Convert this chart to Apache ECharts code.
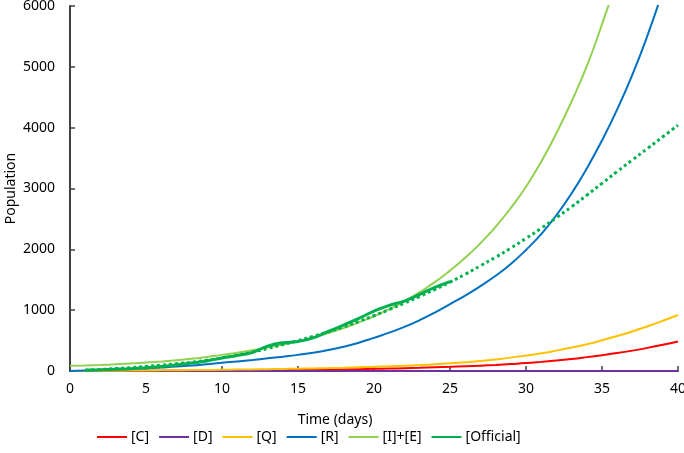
<!DOCTYPE html>
<html>
<head>
<meta charset="utf-8">
<script src="https://cdn.jsdelivr.net/npm/echarts@6/dist/echarts.min.js"></script>
<style>html,body{margin:0;padding:0;background:#fff}#c{width:684px;height:453px}</style>
</head>
<body>
<div id="c"></div>
<script>
// Days 0..40
var days = [0,1,2,3,4,5,6,7,8,9,10,11,12,13,14,15,16,17,18,19,20,21,22,23,24,25,26,27,28,29,30,31,32,33,34,35,36,37,38,39,40];
var seriesC = [0,1,2,2,3,4,5,5,6,7,8,10,11,13,15,18,20,23,26,30,35,40,46,52,60,68,78,88,100,115,130,150,172,198,228,260,295,335,380,430,485];
var seriesD = [0,0,0,0,0,0,0,0,0,0,0,0,0,0,0,0,0,0,0,0,0,0,0,0,0,0,0,0,0,0,0,0,0,0,0,0,0,0,0,0,0];
var seriesQ = [0,2,4,5,7,9,11,13,15,17,20,23,26,30,34,38,43,48,54,61,68,77,87,98,112,128,145,165,190,220,255,290,335,385,440,505,575,650,735,825,920];
var seriesR = [0,8,16,24,34,45,58,72,90,112,135,158,182,208,235,265,300,345,400,465,545,630,725,835,960,1100,1240,1395,1565,1760,1990,2250,2560,2920,3330,3790,4300,4870,5520,6250,7050];
var seriesIE = [85,92,100,110,122,138,155,175,200,230,265,300,340,385,435,490,555,625,705,800,900,1015,1145,1295,1460,1650,1860,2100,2370,2680,3030,3440,3910,4430,5010,5700,6450,7300,8250,9300,10500];
var officialDays = [1,2,3,4,5,6,7,8,9,10,11,12,13,14,15,16,17,18,19,20,21,22,23,24,25];
var official = [15,20,28,38,55,75,100,130,165,215,255,305,410,465,485,545,650,755,865,985,1080,1150,1260,1375,1470];
var trendDays = [1,2,3,4,5,6,7,8,9,10,11,12,13,14,15,16,17,18,19,20,21,22,23,24,25,26,27,28,29,30,31,32,33,34,35,36,37,38,39,40];
var trend = [10,25,40,55,75,95,120,145,175,215,260,310,370,435,500,570,645,725,815,910,1010,1115,1225,1340,1460,1590,1730,1870,2020,2180,2345,2520,2700,2890,3085,3280,3470,3660,3850,4040];
var xTicks = {min:0, max:40, interval:5};
var yTicks = {min:0, max:6000, interval:1000};

function pairs(xs, ys){ return xs.map(function(x,i){ return [x, ys[i]]; }); }

var font = 'Noto Sans';
function line(name, color, xs, ys, w, extra){
  var s = {name:name, type:'line', data:pairs(xs, ys), smooth:true, showSymbol:false, symbol:'none',
    lineStyle:{color:color, width:w}, itemStyle:{color:color}, clip:true, animation:false, z:3};
  if (extra) for (var k in extra) s[k]=extra[k];
  return s;
}

var chart = echarts.init(document.getElementById('c'), null, {renderer:'canvas'});
chart.setOption({
  animation:false,
  grid:{left:70, right:6, top:6, bottom:82, containLabel:false, outerBoundsMode:'none'},
  legend:{
    left:97, top:430, padding:0, itemWidth:30, itemHeight:2, itemGap:10, icon:'rect',
    textStyle:{fontFamily:font, fontSize:14, color:'#000', padding:[0,0,0,-1]},
    data:['[C]','[D]','[Q]','[R]','[I]+[E]','[Official]']
  },
  xAxis:{
    type:'value', min:xTicks.min, max:xTicks.max, interval:xTicks.interval,
    name:'Time (days)', nameLocation:'middle', nameGap:42, nameMoveOverlap:false,
    nameTextStyle:{fontFamily:font, fontSize:14, color:'#000', padding:[0,78,0,0]},
    axisLine:{show:true, lineStyle:{color:'#404040', width:2}},
    axisTick:{show:true, inside:true, length:5, lineStyle:{color:'#404040', width:1.5}},
    axisLabel:{fontFamily:font, fontSize:14, color:'#000', margin:11},
    splitLine:{show:false}
  },
  yAxis:{
    type:'value', min:yTicks.min, max:yTicks.max, interval:yTicks.interval,
    name:'Population', nameLocation:'middle', nameGap:52, nameMoveOverlap:false,
    nameTextStyle:{fontFamily:font, fontSize:14, color:'#000'},
    axisLine:{show:true, lineStyle:{color:'#404040', width:2}},
    axisTick:{show:true, inside:true, length:5, lineStyle:{color:'#404040', width:1.5}},
    axisLabel:{fontFamily:font, fontSize:14, color:'#000', margin:15, formatter:function(v){return String(v);}},
    splitLine:{show:false}
  },
  series:[
    line('[C]', '#FF0000', days, seriesC, 2),
    line('[D]', '#7030A0', days, seriesD, 2),
    line('[Q]', '#FFC000', days, seriesQ, 2),
    line('[R]', '#0070C0', days, seriesR, 2),
    line('[I]+[E]', '#92D050', days, seriesIE, 2),
    line('[Official]', '#00B050', officialDays, official, 3, {z:4}),
    line('trend', '#00B050', trendDays, trend, 3, {lineStyle:{color:'#00B050', width:3, type:[3,3]}, z:4})
  ]
});
</script>
</body>
</html>
